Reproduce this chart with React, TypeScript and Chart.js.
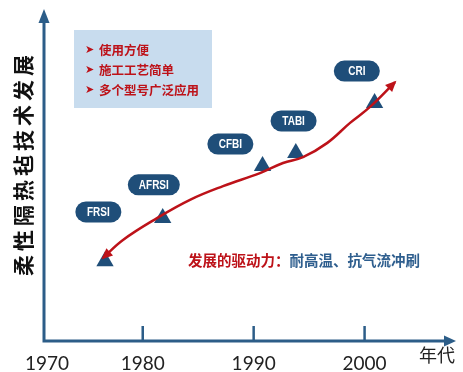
import React, { useEffect, useRef } from 'react';
import { Chart, registerables } from 'chart.js';

Chart.register(...registerables);

// ---- data ----
const productNames = ['FRSI', 'AFRSI', 'CFBI', 'TABI', 'CRI'];
const productYears = [1976.6, 1981.8, 1990.8, 1993.8, 2000.9];
const productLevels = [24.5, 37.7, 53.7, 57.7, 73.0];
const labelYears = [1976.0, 1981.0, 1987.9, 1993.6, 1999.3];
const labelLevels = [39.6, 47.9, 60.4, 67.5, 82.8];
const trendYears = [1976.42, 1978.22, 1981.29, 1984.26, 1987.24, 1990.57, 1992.65, 1994.45, 1996.61, 1998.69, 2000.49, 2002.74];
const trendLevels = [25.5, 31.0, 37.7, 43.3, 47.5, 51.5, 54.6, 56.4, 60.7, 66.9, 71.8, 79.4];
const tickYears = [1970, 1980, 1990, 2000];
const tickLabels = ['1970', '1980', '1990', '2000'];
const xAxisTitle = '年代';
const yAxisTitle = '柔性隔热毡技术发展';
const advantages = ['使用方便', '施工工艺简单', '多个型号广泛应用'];
const driverLabel = '发展的驱动力：';
const driverText = '耐高温、抗气流冲刷';

const AXIS = '#2c5d88';
const NAVY = '#1f4e79';
const RED = '#bd1219';
const CJK = '"Noto Sans CJK SC", sans-serif';

const decor = {
  id: 'decor',
  beforeDatasetsDraw(chart: any) {
    const ctx = chart.ctx as CanvasRenderingContext2D;
    const { left, bottom } = chart.chartArea;
    const xs = chart.scales.x;
    ctx.save();
    // advantages box
    ctx.fillStyle = '#c8dcee';
    ctx.fillRect(74, 30, 138, 78);
    ctx.textBaseline = 'middle';
    ctx.textAlign = 'left';
    advantages.forEach((t, i) => {
      const y = 50 + i * 20;
      ctx.fillStyle = RED;
      ctx.font = 'bold 11px "DejaVu Sans"';
      ctx.fillText('➤', 85, y);
      ctx.font = 'bold 12.5px ' + CJK;
      ctx.fillText(t, 99, y);
    });
    // axes
    ctx.strokeStyle = AXIS;
    ctx.fillStyle = AXIS;
    ctx.lineWidth = 3;
    ctx.beginPath();
    ctx.moveTo(left, bottom + 1.5);
    ctx.lineTo(left, 20);
    ctx.moveTo(left - 1.5, bottom);
    ctx.lineTo(446, bottom);
    ctx.stroke();
    ctx.beginPath();
    ctx.moveTo(left, 9);
    ctx.lineTo(left - 5.5, 23);
    ctx.lineTo(left + 5.5, 23);
    ctx.closePath();
    ctx.fill();
    ctx.beginPath();
    ctx.moveTo(456, bottom);
    ctx.lineTo(444, bottom - 5.5);
    ctx.lineTo(444, bottom + 5.5);
    ctx.closePath();
    ctx.fill();
    // ticks
    ctx.lineWidth = 2.5;
    tickYears.forEach((v) => {
      const px = xs.getPixelForValue(v);
      if (px <= left + 2) return;
      ctx.beginPath();
      ctx.moveTo(px, bottom);
      ctx.lineTo(px, bottom - 15);
      ctx.stroke();
    });
    // tick labels
    ctx.fillStyle = '#222';
    ctx.font = '19px Lato, sans-serif';
    ctx.textAlign = 'center';
    tickYears.forEach((v, i) => {
      const px = Math.max(xs.getPixelForValue(v), left + 3);
      ctx.fillText(tickLabels[i], px, 364);
    });
    ctx.font = '18px ' + CJK;
    ctx.fillText(xAxisTitle, 437, 355);
    // y title
    ctx.font = 'bold 21px ' + CJK;
    ctx.fillStyle = '#111';
    const chars = Array.from(yAxisTitle);
    chars.forEach((c, i) => {
      ctx.save();
      ctx.translate(23, 278 - 12.5 - i * 25);
      ctx.rotate(-Math.PI / 2);
      ctx.fillText(c, 0, 0);
      ctx.restore();
    });
    // driver text
    ctx.textAlign = 'left';
    ctx.font = 'bold 14.5px ' + CJK;
    ctx.fillStyle = RED;
    ctx.fillText(driverLabel, 188, 260);
    const w = ctx.measureText(driverLabel).width;
    ctx.fillStyle = '#2e5e8e';
    ctx.fillText(driverText, 188 + w, 260);
    ctx.restore();
  },
  afterDatasetsDraw(chart: any) {
    const ctx = chart.ctx as CanvasRenderingContext2D;
    const xs = chart.scales.x;
    const ys = chart.scales.y;
    ctx.save();
    // arrowheads on trend curve
    const pts = chart.getDatasetMeta(1).data;
    const head = (tipX: number, tipY: number, fromX: number, fromY: number) => {
      let dx = tipX - fromX;
      let dy = tipY - fromY;
      const len = Math.hypot(dx, dy) || 1;
      dx /= len; dy /= len;
      const tx = tipX + dx * 2;
      const ty = tipY + dy * 2;
      const bx = tipX - dx * 9;
      const by = tipY - dy * 9;
      ctx.beginPath();
      ctx.moveTo(tx, ty);
      ctx.lineTo(bx - dy * 5, by + dx * 5);
      ctx.lineTo(bx + dy * 5, by - dx * 5);
      ctx.closePath();
      ctx.fill();
    };
    ctx.fillStyle = RED;
    if (pts.length > 1) {
      const p0 = pts[0];
      const p1 = pts[1];
      head(p0.x, p0.y, p1.x, p1.y);
      const pn = pts[pts.length - 1];
      const pm = pts[pts.length - 2];
      head(pn.x, pn.y, pm.x, pm.y);
    }
    // pills
    ctx.textAlign = 'center';
    ctx.textBaseline = 'middle';
    productNames.forEach((name, i) => {
      const cx = xs.getPixelForValue(labelYears[i]);
      const cy = ys.getPixelForValue(labelLevels[i]);
      ctx.font = 'bold 12.5px "Liberation Sans", sans-serif';
      const tw = ctx.measureText(name).width * 0.8;
      const w = Math.max(46, tw + 22);
      const h = 21;
      ctx.fillStyle = NAVY;
      ctx.beginPath();
      (ctx as any).roundRect(cx - w / 2, cy - h / 2, w, h, h / 2);
      ctx.fill();
      ctx.save();
      ctx.translate(cx, cy + 0.5);
      ctx.scale(0.8, 1);
      ctx.fillStyle = '#fff';
      ctx.fillText(name, 0, 0);
      ctx.restore();
    });
    ctx.restore();
  },
};

export default function App() {
  const ref = useRef<HTMLCanvasElement>(null);
  useEffect(() => {
    if (!ref.current) return;
    const chart = new Chart(ref.current, {
      type: 'scatter',
      data: {
        datasets: [
          {
            label: 'products',
            data: productYears.map((x, i) => ({ x, y: productLevels[i] })),
            pointStyle: 'triangle',
            pointRadius: 10,
            backgroundColor: NAVY,
            borderWidth: 0,
            showLine: false,
            order: 2,
            clip: false,
          } as any,
          {
            label: 'trend',
            data: trendYears.map((x, i) => ({ x, y: trendLevels[i] })),
            showLine: true,
            borderColor: RED,
            borderWidth: 2.5,
            pointRadius: 0,
            tension: 0.4,
            order: 1,
            clip: false,
          } as any,
        ],
      },
      options: {
        animation: false,
        responsive: false,
        events: [],
        layout: { padding: { left: 44, top: 15, right: 13, bottom: 31 } },
        plugins: { legend: { display: false }, tooltip: { enabled: false } },
        scales: {
          x: { type: 'linear', min: 1971.1, max: 2007.7, display: false },
          y: { type: 'linear', min: 0, max: 100, display: false },
        },
      },
      plugins: [decor],
    });
    return () => chart.destroy();
  }, []);
  return (
    <div style={{ position: 'fixed', left: 0, top: 0, width: 463, height: 372, background: '#fff' }}>
      <canvas ref={ref} width={463} height={372} style={{ width: 463, height: 372 }} />
    </div>
  );
}
